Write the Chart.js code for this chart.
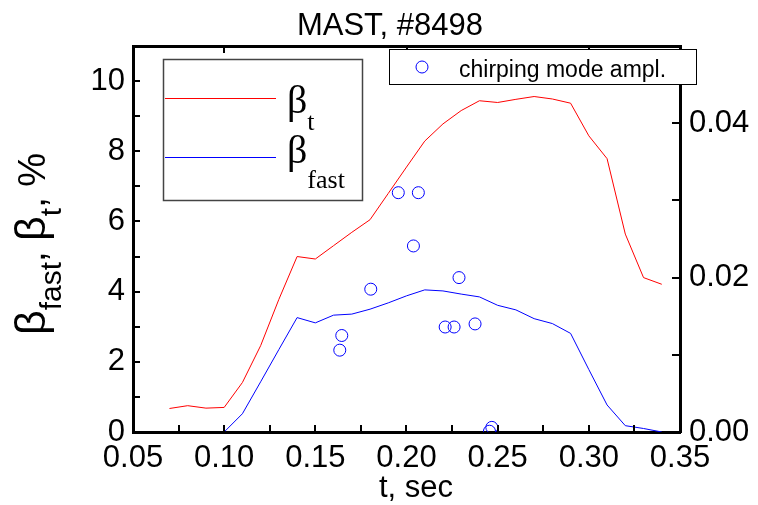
<!DOCTYPE html>
<html>
<head>
<meta charset="utf-8">
<script src="https://cdn.jsdelivr.net/npm/chart.js@4.4.0/dist/chart.umd.min.js"></script>
<style>
  html, body { margin: 0; padding: 0; background: #fff; }
  #wrap { width: 758px; height: 505px; }
</style>
</head>
<body>
<div id="wrap"><canvas id="chart" width="758" height="505"></canvas></div>
<script>
// beta_t (red), % 
const tBeta = [0.07, 0.08, 0.09, 0.10, 0.11, 0.12, 0.13, 0.14, 0.15, 0.16, 0.17, 0.18, 0.19, 0.20,
  0.21, 0.22, 0.23, 0.24, 0.25, 0.26, 0.27, 0.28, 0.29, 0.30, 0.31, 0.32, 0.33, 0.34];
const betaT = [0.67, 0.75, 0.68, 0.70, 1.41, 2.46, 3.78, 5.00, 4.93, 5.31, 5.69, 6.05, 6.80, 7.55,
  8.29, 8.78, 9.16, 9.44, 9.39, 9.48, 9.56, 9.49, 9.37, 8.44, 7.79, 5.64, 4.40, 4.21];

// beta_fast (blue), %
const tFast = [0.10, 0.11, 0.12, 0.13, 0.14, 0.15, 0.16, 0.17, 0.18, 0.19, 0.20, 0.21, 0.22,
  0.23, 0.24, 0.25, 0.26, 0.27, 0.28, 0.29, 0.30, 0.31, 0.32, 0.33, 0.34];
const betaFast = [0.00, 0.52, 1.43, 2.35, 3.26, 3.11, 3.33, 3.36, 3.50, 3.68, 3.88, 4.05, 4.02,
  3.93, 3.85, 3.61, 3.48, 3.23, 3.09, 2.81, 1.78, 0.77, 0.18, 0.10, 0.00];

// chirping mode amplitude (right axis)
const chirpT = [0.1634, 0.1645, 0.1804, 0.1955, 0.2065, 0.2038, 0.2212, 0.2261, 0.2288, 0.2376, 0.2455, 0.2468];
const chirpAmp = [0.0106, 0.0125, 0.0185, 0.0310, 0.0310, 0.0241, 0.0136, 0.0136, 0.0200, 0.0140, 0.0001, 0.0006];

// ticks
const xTickValues = [0.05, 0.10, 0.15, 0.20, 0.25, 0.30, 0.35];
const yTickValues = [0, 2, 4, 6, 8, 10];
const y2TickValues = [0.00, 0.02, 0.04];

const SANS = "'Liberation Sans', Arial, sans-serif";
const SERIF = "'Liberation Serif', 'Times New Roman', serif";

function drawRich(ctx, parts, x, y, align) {
  let w = 0;
  parts.forEach((p) => {
    ctx.font = p.font;
    p.w = ctx.measureText(p.text).width;
    w += p.w;
  });
  let cx = align === "center" ? x - w / 2 : x;
  parts.forEach((p) => {
    ctx.font = p.font;
    ctx.fillText(p.text, cx, y + (p.dy || 0));
    cx += p.w;
  });
}

const decor = {
  id: "decor",
  afterDraw(chart) {
    const ctx = chart.ctx;
    const { x, xTop, y, y2 } = chart.scales;
    const a = chart.chartArea;
    ctx.save();
    ctx.strokeStyle = "#000";
    ctx.lineWidth = 2;
    ctx.beginPath();
    // inward ticks
    for (let v = 0.05; v <= 0.3501; v += 0.025) {
      const px = Math.round(x.getPixelForValue(v));
      ctx.moveTo(px, a.bottom);
      ctx.lineTo(px, a.bottom - 7);
    }
    for (let v = 0.10; v <= 0.3001; v += 0.1) {
      const px = Math.round(xTop.getPixelForValue(v));
      ctx.moveTo(px, a.top);
      ctx.lineTo(px, a.top + 7);
    }
    for (let v = 1; v <= 11; v++) {
      const py = Math.round(y.getPixelForValue(v));
      ctx.moveTo(a.left, py);
      ctx.lineTo(a.left + 7, py);
    }
    for (let v = 0.01; v <= 0.0401; v += 0.01) {
      const py = Math.round(y2.getPixelForValue(v));
      ctx.moveTo(a.right, py);
      ctx.lineTo(a.right - 8, py);
    }
    ctx.stroke();

    ctx.fillStyle = "#000";
    ctx.textBaseline = "alphabetic";
    ctx.textAlign = "left";

    // title
    drawRich(ctx, [{ text: "MAST, #8498", font: `31px ${SANS}` }], 390, 35, "center");
    // x title
    drawRich(ctx, [{ text: "t, sec", font: `31px ${SANS}` }], 416, 497, "center");

    // y title (rotated)
    ctx.save();
    ctx.translate(45, 244);
    ctx.rotate(-Math.PI / 2);
    drawRich(ctx, [
      { text: "\u03b2", font: `43px ${SANS}` },
      { text: "fast", font: `30px ${SANS}`, dy: 16 },
      { text: ", ", font: `38px ${SANS}` },
      { text: "\u03b2", font: `43px ${SANS}` },
      { text: "t", font: `30px ${SANS}`, dy: 16 },
      { text: ", %", font: `38px ${SANS}` },
    ], 0, 0, "center");
    ctx.restore();

    // left legend
    ctx.fillStyle = "#fff";
    ctx.fillRect(163, 59, 200, 142);
    ctx.strokeStyle = "#444";
    ctx.lineWidth = 1.5;
    ctx.strokeRect(163.5, 59.5, 199, 141);
    ctx.lineWidth = 1;
    ctx.strokeStyle = "#ff0000";
    ctx.beginPath();
    ctx.moveTo(165, 98.5);
    ctx.lineTo(276, 98.5);
    ctx.stroke();
    ctx.strokeStyle = "#0000ff";
    ctx.beginPath();
    ctx.moveTo(165, 157.5);
    ctx.lineTo(276, 157.5);
    ctx.stroke();
    ctx.fillStyle = "#000";
    drawRich(ctx, [
      { text: "\u03b2", font: `40px ${SERIF}` },
      { text: "t", font: `26px ${SERIF}`, dy: 17 },
    ], 287, 113, "left");
    drawRich(ctx, [
      { text: "\u03b2", font: `40px ${SERIF}` },
      { text: "fast", font: `26px ${SERIF}`, dy: 25 },
    ], 287, 163, "left");

    // right legend
    ctx.fillStyle = "#fff";
    ctx.fillRect(389, 49, 308, 36);
    ctx.strokeStyle = "#000";
    ctx.lineWidth = 1;
    ctx.strokeRect(389.5, 49.5, 307, 35);
    ctx.strokeStyle = "#0000ff";
    ctx.beginPath();
    ctx.arc(422, 67, 6, 0, Math.PI * 2);
    ctx.stroke();
    ctx.fillStyle = "#000";
    drawRich(ctx, [{ text: "chirping mode ampl.", font: `23px ${SANS}` }], 459, 77, "left");
    ctx.restore();
  },
};

const ctx = document.getElementById("chart").getContext("2d");

const tickFont = { family: SANS, size: 31 };

new Chart(ctx, {
  type: "line",
  data: {
    datasets: [
      {
        label: "beta_t",
        data: tBeta.map((t, i) => ({ x: t, y: betaT[i] })),
        borderColor: "#ff0000",
        borderWidth: 1,
        pointRadius: 0,
        tension: 0,
        xAxisID: "x",
        yAxisID: "y",
      },
      {
        label: "beta_fast",
        data: tFast.map((t, i) => ({ x: t, y: betaFast[i] })),
        borderColor: "#0000ff",
        borderWidth: 1,
        pointRadius: 0,
        tension: 0,
        xAxisID: "x",
        yAxisID: "y",
      },
      {
        type: "scatter",
        label: "chirping mode ampl.",
        data: chirpT.map((t, i) => ({ x: t, y: chirpAmp[i] })),
        showLine: false,
        pointStyle: "circle",
        pointRadius: 6,
        borderColor: "#0000ff",
        backgroundColor: "rgba(0,0,0,0)",
        borderWidth: 1,
        xAxisID: "x",
        yAxisID: "y2",
      },
    ],
  },
  options: {
    responsive: false,
    animation: false,
    layout: { padding: 0 },
    plugins: {
      legend: { display: false },
      tooltip: { enabled: false },
      title: { display: false },
    },
    scales: {
      x: {
        type: "linear",
        position: "bottom",
        min: 0.05,
        max: 0.35,
        afterBuildTicks: (s) => { s.ticks = xTickValues.map((v) => ({ value: v })); },
        afterFit: (s) => { s.height = 73; },
        ticks: { font: tickFont, color: "#000", padding: 8, maxRotation: 0, autoSkip: false,
          callback: (v) => Number(v).toFixed(2) },
        grid: { drawOnChartArea: false, drawTicks: false },
        border: { color: "#000", width: 3 },
      },
      xTop: {
        type: "linear",
        position: "top",
        min: 0.05,
        max: 0.35,
        afterFit: (s) => { s.height = 46; },
        ticks: { display: false },
        grid: { drawOnChartArea: false, drawTicks: false },
        border: { color: "#000", width: 3 },
      },
      y: {
        type: "linear",
        position: "left",
        min: 0,
        max: 11,
        afterBuildTicks: (s) => { s.ticks = yTickValues.map((v) => ({ value: v })); },
        afterFit: (s) => { s.width = 133; },
        ticks: { font: tickFont, color: "#000", padding: 8 },
        grid: { drawOnChartArea: false, drawTicks: false },
        border: { color: "#000", width: 3 },
      },
      y2: {
        type: "linear",
        position: "right",
        min: 0,
        max: 0.05,
        afterBuildTicks: (s) => { s.ticks = y2TickValues.map((v) => ({ value: v })); },
        afterFit: (s) => { s.width = 78; },
        ticks: { font: tickFont, color: "#000", padding: 9,
          callback: (v) => Number(v).toFixed(2) },
        grid: { drawOnChartArea: false, drawTicks: false },
        border: { color: "#000", width: 3 },
      },
    },
  },
  plugins: [decor],
});
</script>
</body>
</html>
